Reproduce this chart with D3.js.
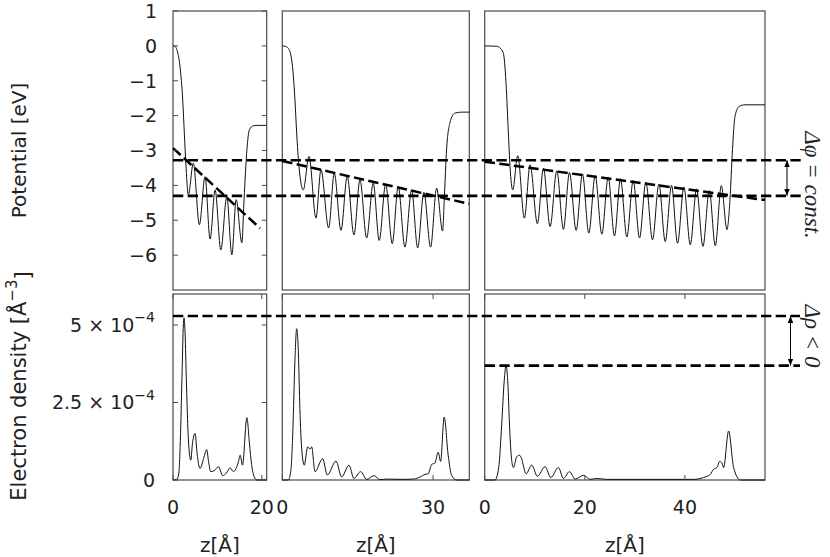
<!DOCTYPE html>
<html>
<head>
<meta charset="utf-8">
<style>
  body { margin: 0; background: #fff; }
  svg { display: block; }
  .tick-label { font: 19px "DejaVu Sans", sans-serif; fill: #222; }
  .ax-title { font: 20px "DejaVu Sans", sans-serif; fill: #222; }
  .note { font: italic 23px "Liberation Serif", serif; fill: #222; }
</style>
</head>
<body>
<svg width="830" height="557"></svg>
<script src="https://cdn.jsdelivr.net/npm/d3@7/dist/d3.min.js"></script>
<script>
// ---- data (z in Angstrom) ----
var potTicks = [1, 0, -1, -2, -3, -4, -5, -6];
var rhoTicks = [0, 2.5e-4, 5e-4];
var rhoTickLabels = [["0", ""], ["2.5 × 10", "−4"], ["5 × 10", "−4"]];
var zTicks = [[0, 20], [0, 30], [0, 20, 40]];
var zDomains = [[0, 21.1], [0, 37.2], [0, 56]];

var pot1 = [[0,0],[0.5,-0.02],[0.84,-0.1],[1.58,-0.6],[2.19,-1.55],[2.55,-2.5],[2.93,-3.45],[3.45,-4.27],
  [4.58,-3.36],[5.94,-5.13],[7.22,-3.75],[8.35,-5.54],[9.48,-4.13],[10.77,-5.85],[12.12,-4.32],
  [13.25,-5.99],[14.22,-4.41],[15.51,-5.65],[16.0,-4.4],[16.64,-2.98],[17.2,-2.41],[18.1,-2.29],[19.0,-2.28],[21.1,-2.28]];
var pot2 = [[0,0],[0.7,-0.02],[1.19,-0.07],[1.87,-0.4],[2.52,-1.55],[2.86,-2.5],[3.32,-3.46],[4.17,-4.13],
  [5.31,-3.17],[6.7,-4.94],[7.69,-3.55],[9.22,-5.22],[10.34,-3.65],[11.67,-5.29],[12.92,-3.74],
  [14.25,-5.42],[15.45,-3.84],[16.78,-5.51],[18.09,-3.93],[19.28,-5.58],[20.56,-3.96],[21.87,-5.67],
  [23.06,-4.03],[24.39,-5.77],[25.73,-4.13],[26.92,-5.79],[28.17,-4.2],[29.5,-5.77],[30.7,-4.08],
  [31.89,-5.31],[32.25,-4.3],[32.68,-2.98],[33.34,-2.21],[34.33,-1.93],[35.67,-1.9],[37.2,-1.9]];
var pot3 = [[0,0],[2.4,-0.01],[3.07,-0.06],[3.73,-0.21],[4.26,-1.07],[4.73,-2.5],[5.06,-3.46],[5.6,-4.13],
  [6.6,-3.15],[7.93,-4.94],[9.07,-3.41],[10.53,-5.1],[11.73,-3.51],[13.07,-5.18],[14.4,-3.58],
  [15.73,-5.26],[16.93,-3.63],[18.27,-5.29],[19.53,-3.67],[20.8,-5.37],[22.07,-3.72],[23.4,-5.4],
  [24.67,-3.77],[25.93,-5.45],[27.13,-3.81],[28.4,-5.48],[29.67,-3.86],[30.93,-5.51],[32.2,-3.91],
  [33.53,-5.56],[34.8,-3.96],[36.07,-5.61],[37.33,-4.0],[38.53,-5.66],[39.8,-4.05],[41.07,-5.7],
  [42.33,-4.1],[43.6,-5.75],[44.87,-4.15],[46.07,-5.73],[47.27,-4.01],[48.4,-5.27],[49.0,-4.41],
  [49.5,-2.98],[50.0,-2.03],[50.8,-1.74],[52.0,-1.69],[56,-1.69]];

var fit1 = [[0, -2.93], [19.6, -5.23]];
var fit2 = [[0, -3.3], [37.2, -4.53]];
var fit3 = [[0, -3.32], [56, -4.42]];

// electron density in units of 1e-4 / A^3
var rho1 = [[0,0],[0.84,0.02],[1.3,0.2],[1.7,1.5],[2.05,3.5],[2.33,5.0],[2.48,5.23],[2.7,4.8],[3.05,3.0],
  [3.4,1.5],[3.8,0.75],[4.0,0.64],[4.4,1.2],[4.97,1.5],[5.4,0.9],[5.85,0.45],[6.09,0.37],[6.9,0.7],
  [7.6,0.98],[8.0,0.6],[8.5,0.27],[9.3,0.3],[10.23,0.43],[11.2,0.14],[12.0,0.22],[12.87,0.39],
  [13.6,0.27],[14.74,0.59],[15.12,0.8],[15.65,0.48],[16.64,2.01],[17.2,1.2],[17.7,0.5],[18.3,0.1],
  [18.9,0],[21.1,0]];
var rho2 = [[0,0],[1.19,0],[1.7,0.3],[2.1,1.6],[2.5,3.8],[2.86,4.88],[3.2,4.1],[3.5,2.3],[3.86,1.0],
  [4.37,0.48],[5.05,1.07],[5.5,1.0],[5.84,1.07],[6.5,0.27],[8.03,0.69],[8.95,0.16],[10.68,0.61],
  [11.81,0.1],[13.26,0.48],[14.25,0.05],[15.59,0.27],[16.78,0.02],[18.23,0.14],[19.42,0.01],
  [20.75,0.03],[24.06,0.02],[26.05,0.03],[27.7,0.12],[28.37,0.18],[29.03,0.2],[29.7,0.5],
  [30.36,0.55],[31.01,0.9],[31.49,0.6],[32.2,2.03],[33.0,0.8],[33.68,0.15],[34.67,0],[37.2,0]];
var rho3 = [[0,0],[2.06,0],[2.8,0.4],[3.4,1.8],[3.9,3.2],[4.26,3.69],[4.6,3.2],[5.0,1.6],[5.35,0.7],
  [5.73,0.4],[6.4,0.75],[6.93,0.8],[7.3,0.72],[8.27,0.2],[9.4,0.48],[10.53,0.12],[12.07,0.43],
  [13.2,0.08],[14.73,0.4],[15.73,0.05],[16.93,0.27],[18.07,0.03],[19.73,0.15],[21.07,0.02],
  [22.4,0.05],[24.4,0.02],[41.73,0.02],[43.73,0.08],[45.07,0.18],[45.73,0.35],[46.4,0.4],
  [46.93,0.6],[47.4,0.55],[47.73,0.4],[48.73,1.58],[49.73,0.4],[51.07,0],[56,0]];

var potHLines = [-3.28, -4.3];
var rhoHLines = [5.29e-4, 3.69e-4];

// ---- layout ----
var svg = d3.select("svg");
var cols = [[173, 266.7], [282.3, 469.3], [484.7, 765]];
var rowTop = [11, 290], rowBot = [294, 480];
var frame = "#4a4a4a";

var yPot = d3.scaleLinear().domain([-7, 1]).range([rowTop[1], rowTop[0]]);
var yRho = d3.scaleLinear().domain([0, 6e-4]).range([rowBot[1], rowBot[0]]);
var xs = cols.map(function(c, i) { return d3.scaleLinear().domain(zDomains[i]).range(c); });

var pots = [pot1, pot2, pot3], rhos = [rho1, rho2, rho3], fits = [fit1, fit2, fit3];

svg.append("defs").append("marker")
    .attr("id", "head").attr("viewBox", "0 0 10 10")
    .attr("refX", 10).attr("refY", 5)
    .attr("markerWidth", 7).attr("markerHeight", 7)
    .attr("markerUnits", "userSpaceOnUse")
    .attr("orient", "auto-start-reverse")
  .append("path").attr("d", "M0,1 L10,5 L0,9 z").attr("fill", "#000");

cols.forEach(function(c, i) {
  var x = xs[i];
  var lineP = d3.line().x(function(d) { return x(d[0]); }).y(function(d) { return yPot(d[1]); }).curve(d3.curveMonotoneX);
  var lineR = d3.line().x(function(d) { return x(d[0]); }).y(function(d) { return yRho(d[1] * 1e-4); }).curve(d3.curveMonotoneX);

  // frames
  svg.append("rect").attr("x", c[0]).attr("y", rowTop[0]).attr("width", c[1] - c[0]).attr("height", rowTop[1] - rowTop[0])
    .attr("fill", "none").attr("stroke", frame).attr("stroke-width", 1.2);
  svg.append("rect").attr("x", c[0]).attr("y", rowBot[0]).attr("width", c[1] - c[0]).attr("height", rowBot[1] - rowBot[0])
    .attr("fill", "none").attr("stroke", frame).attr("stroke-width", 1.2);

  svg.append("path").datum(pots[i]).attr("d", lineP)
    .attr("fill", "none").attr("stroke", "#111").attr("stroke-width", 1);
  svg.append("path").datum(rhos[i]).attr("d", lineR)
    .attr("fill", "none").attr("stroke", "#111").attr("stroke-width", 1);

  svg.append("path").datum(fits[i])
    .attr("d", d3.line().x(function(d) { return x(d[0]); }).y(function(d) { return yPot(d[1]); }))
    .attr("fill", "none").attr("stroke", "#000").attr("stroke-width", 2.5).attr("stroke-dasharray", "10.3,4.4");

  // x ticks (bottom row, inward on top and bottom)
  var xt = svg.append("g");
  xt.selectAll("line.b").data(zTicks[i]).enter().append("line")
    .attr("x1", x).attr("x2", x).attr("y1", rowBot[1]).attr("y2", rowBot[1] - 5)
    .attr("stroke", frame);
  xt.selectAll("line.t").data(zTicks[i]).enter().append("line")
    .attr("x1", x).attr("x2", x).attr("y1", rowBot[0]).attr("y2", rowBot[0] + 5)
    .attr("stroke", frame);
  xt.selectAll("text").data(zTicks[i]).enter().append("text")
    .attr("class", "tick-label").attr("x", x).attr("y", 514)
    .attr("text-anchor", "middle").text(function(d) { return d; });

  svg.append("text").attr("class", "ax-title").attr("x", (c[0] + c[1]) / 2).attr("y", 552)
    .attr("text-anchor", "middle").text("z[Å]");
});

// y ticks on first column (inward, both sides)
var c0 = cols[0];
var gy = svg.append("g");
potTicks.forEach(function(t) {
  gy.append("line").attr("x1", c0[0]).attr("x2", c0[0] + 5).attr("y1", yPot(t)).attr("y2", yPot(t)).attr("stroke", frame);
  gy.append("line").attr("x1", c0[1]).attr("x2", c0[1] - 5).attr("y1", yPot(t)).attr("y2", yPot(t)).attr("stroke", frame);
  gy.append("text").attr("class", "tick-label").attr("x", 157).attr("y", yPot(t)).attr("dy", "0.36em")
    .attr("text-anchor", "end").text(t < 0 ? "−" + Math.abs(t) : String(t));
});
rhoTicks.forEach(function(t, k) {
  gy.append("line").attr("x1", c0[0]).attr("x2", c0[0] + 5).attr("y1", yRho(t)).attr("y2", yRho(t)).attr("stroke", frame);
  gy.append("line").attr("x1", c0[1]).attr("x2", c0[1] - 5).attr("y1", yRho(t)).attr("y2", yRho(t)).attr("stroke", frame);
  var tx = gy.append("text").attr("class", "tick-label").attr("x", 155).attr("y", yRho(t)).attr("dy", "0.36em")
    .attr("text-anchor", "end");
  tx.append("tspan").text(rhoTickLabels[k][0]);
  if (rhoTickLabels[k][1]) tx.append("tspan").attr("dy", "-0.7em").attr("font-size", "14px").text(rhoTickLabels[k][1]);
});

// axis titles
svg.append("text").attr("class", "ax-title")
  .attr("transform", "translate(26," + ((rowTop[0] + rowTop[1]) / 2) + ") rotate(-90)")
  .attr("text-anchor", "middle").text("Potential [eV]");
var rt = svg.append("text").attr("class", "ax-title").style("font-size", "21px")
  .attr("transform", "translate(26,386) rotate(-90)")
  .attr("text-anchor", "middle");
rt.append("tspan").text("Electron density [Å");
rt.append("tspan").attr("dy", "-0.6em").attr("font-size", "15px").text("−3");
rt.append("tspan").attr("dy", "0.6em").text("]");

// horizontal reference lines
var dash = "10.3,4.4";
potHLines.forEach(function(v) {
  svg.append("line").attr("x1", cols[0][0]).attr("x2", 803).attr("y1", yPot(v)).attr("y2", yPot(v))
    .attr("stroke", "#000").attr("stroke-width", 2.6).attr("stroke-dasharray", dash);
});
rhoHLines.forEach(function(v, k) {
  svg.append("line").attr("x1", k === 0 ? cols[0][0] : cols[2][0]).attr("x2", 800).attr("y1", yRho(v)).attr("y2", yRho(v))
    .attr("stroke", "#000").attr("stroke-width", 2.6).attr("stroke-dasharray", dash);
});

// arrows
svg.append("line").attr("x1", 787).attr("x2", 787).attr("y1", yPot(potHLines[0])).attr("y2", yPot(potHLines[1]))
  .attr("stroke", "#000").attr("stroke-width", 1)
  .attr("marker-start", "url(#head)").attr("marker-end", "url(#head)");
svg.append("line").attr("x1", 790.5).attr("x2", 790.5).attr("y1", yRho(rhoHLines[0])).attr("y2", yRho(rhoHLines[1]))
  .attr("stroke", "#000").attr("stroke-width", 1)
  .attr("marker-start", "url(#head)").attr("marker-end", "url(#head)");

// annotations
svg.append("text").attr("class", "note")
  .attr("transform", "translate(805,185) rotate(90)")
  .attr("text-anchor", "middle").text("Δφ = const.");
svg.append("text").attr("class", "note")
  .attr("transform", "translate(805,336) rotate(90)")
  .attr("text-anchor", "middle").text("Δρ < 0");
</script>
</body>
</html>
